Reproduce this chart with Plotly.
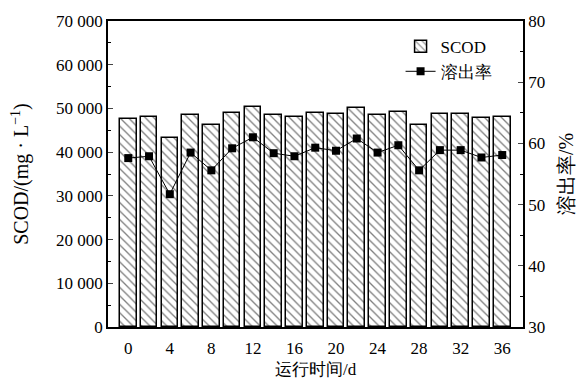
import plotly.graph_objects as go
from plotly.subplots import make_subplots

days = [0, 2, 4, 6, 8, 10, 12, 14, 16, 18, 20, 22, 24, 26, 28, 30, 32, 34, 36]
scod = [47650, 47970, 43300, 48430, 46210, 48880, 50400, 48430, 47970, 49030,
        48650, 50170, 48430, 49260, 46280, 48650, 48650, 47740, 48040]
rate = [57.6, 57.9, 51.7, 58.5, 55.6, 59.2, 61.0, 58.4, 57.9, 59.3,
        58.8, 60.8, 58.5, 59.7, 55.6, 58.9, 58.9, 57.7, 58.1]
x_ticks = [0, 4, 8, 12, 16, 20, 24, 28, 32, 36]
y1_ticks = [0, 10000, 20000, 30000, 40000, 50000, 60000, 70000]
y1_labels = ["0", "10 000", "20 000", "30 000", "40 000", "50 000", "60 000", "70 000"]
y2_ticks = [30, 40, 50, 60, 70, 80]

FONT = "Liberation Serif, serif"

fig = make_subplots(specs=[[{"secondary_y": True}]])
fig.add_trace(go.Bar(
    x=days, y=scod, name="SCOD", width=1.6,
    marker=dict(color="white", line=dict(color="black", width=1.5),
                pattern=dict(shape="\\", fgcolor="black", bgcolor="white", size=6, solidity=0.22)),
), secondary_y=False)
fig.add_trace(go.Scatter(
    x=days, y=rate, name="溶出率", mode="lines+markers",
    line=dict(color="black", width=1),
    marker=dict(symbol="square", size=8, color="black"),
), secondary_y=True)

fig.update_layout(
    width=576, height=373,
    margin=dict(l=100, r=61, t=13, b=54, autoexpand=False),
    paper_bgcolor="white", plot_bgcolor="white",
    font=dict(family=FONT, size=17, color="black"),
    showlegend=True,
    legend=dict(x=0.705, y=0.975, xanchor="left", yanchor="top",
                bgcolor="rgba(0,0,0,0)", borderwidth=0,
                font=dict(size=17), tracegroupgap=0, itemwidth=30),
    bargap=0,
    annotations=[dict(text="运行时间/d", xref="paper", yref="paper", x=0.5, y=-0.14,
                      xanchor="center", yanchor="middle", showarrow=False,
                      font=dict(size=17))],
)
fig.update_xaxes(domain=[0, 1], range=[-1.95, 38.0], tickvals=x_ticks, ticks="", showline=True,
                 linecolor="black", linewidth=1.5, mirror=True, showgrid=False, zeroline=False,
                 automargin=False, ticklabelstandoff=5, tickfont=dict(size=17))
fig.update_yaxes(range=[0, 70000], tickvals=y1_ticks, ticktext=y1_labels, ticks="inside",
                 ticklen=5, tickwidth=1, showline=True, linecolor="black", linewidth=1.5,
                 showgrid=False, zeroline=False, automargin=False,
                 minor=dict(ticks="inside", ticklen=3, dtick=5000, tickcolor="black"),
                 title=dict(text="SCOD/(mg · L<sup>−1</sup>)", standoff=22),
                 secondary_y=False)
fig.update_yaxes(range=[30, 80], tickvals=y2_ticks, ticks="inside",
                 ticklen=5, tickwidth=1, showline=True, linecolor="black", linewidth=1.5,
                 showgrid=False, zeroline=False, automargin=False,
                 minor=dict(ticks="inside", ticklen=3, dtick=5, tickcolor="black"),
                 title=dict(text="溶出率/%", standoff=15),
                 secondary_y=True)

fig.write_html("out.html")
